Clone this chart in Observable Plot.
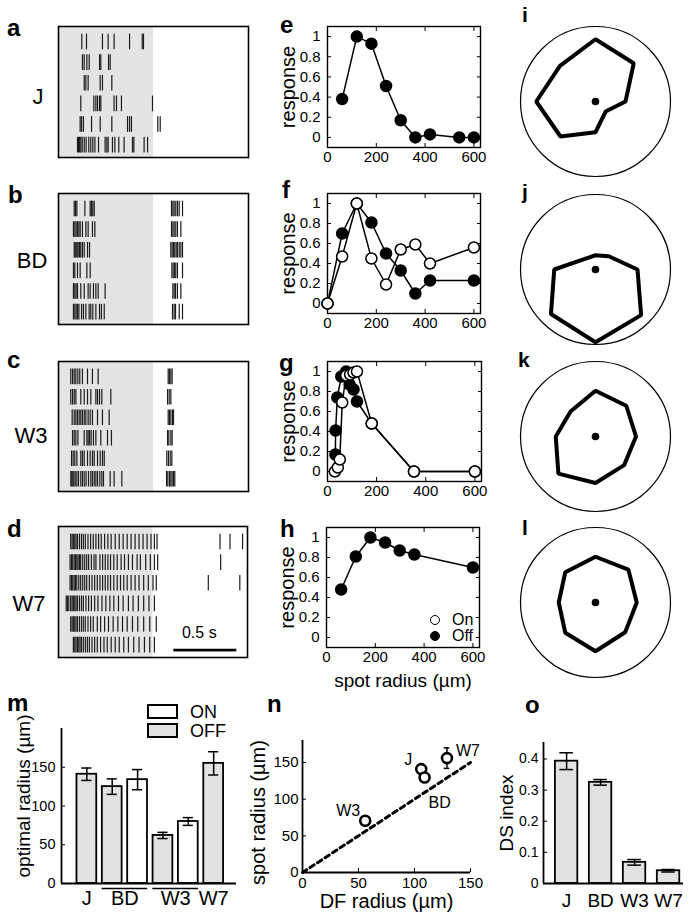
<!DOCTYPE html>
<html><head><meta charset="utf-8">
<script src="https://cdn.jsdelivr.net/npm/d3@7"></script>
<script src="https://cdn.jsdelivr.net/npm/@observablehq/plot@0.6"></script>
<style>
body{margin:0;background:#fff;}
#fig{position:relative;width:692px;height:924px;overflow:hidden;background:#fff;}
#fig svg{position:absolute;overflow:visible;}
</style></head><body><div id="fig"></div>
<script>
const FONT = '"Liberation Sans", Arial, Helvetica, sans-serif';
const fig = document.getElementById("fig");

// ---------- DATA ----------
// Raster spike times (ms), 6 trials per cell type
const TRIAL_MS = 1500;
const stimWindow = [0, 750];
const scaleBarMs = 500;
const spikesJ = [
 [184,221,347,392,439,561,661,671],
 [189,203,224,242,324,334,395,408],
 [203,216,234,329,347,421],
 [176,279,295,308,324,334,439,458,497,742],
 [171,182,197,261,329,421,545,561,576,784,803],
 [150,158,166,176,187,203,218,239,255,271,287,316,368,382,392,426,445,476,518,584,595,676,703]
];
const spikesBD = [
 [124,134,145,208,250,261,271,282,892,903,913,926,939,953,979],
 [118,129,139,150,161,171,189,216,234,268,287,892,903,913,926,939,966],
 [124,132,139,147,155,166,176,189,203,229,245,887,897,908,918,929,939,953,966,979],
 [118,129,150,171,224,250,895,905,916,926,939,979],
 [118,129,139,150,176,203,234,250,276,295,313,368,903,913,924,939,966],
 [118,129,139,150,161,182,197,216,242,255,271,295,324,339,361,900,913,924,953,979]
];
const spikesW3 = [
 [97,111,124,137,153,168,189,229,268,313,866,876,887,897],
 [97,111,124,137,176,203,229,255,295,308,324,342,413,861,874,887],
 [108,124,137,150,163,176,189,203,216,234,250,268,308,347,400,866,876,887,900,908],
 [111,124,137,153,203,224,234,245,258,276,295,334,387,418,861,871,887,897],
 [103,116,129,145,176,189,203,229,250,268,282,308,329,347,361,855,868,882,895],
 [97,105,113,121,132,145,158,176,189,203,218,237,255,268,282,295,308,326,342,355,408,439,500,853,863,876,887,897,908,918]
];
const spikesW7 = [
 [97,108,118,129,139,150,166,182,197,213,234,255,276,297,318,339,366,392,418,450,482,513,545,576,608,639,671,703,734,761,782,1282,1361,1461],
 [92,103,113,124,134,145,155,166,176,192,208,224,239,261,282,297,329,350,371,392,413,439,466,497,524,555,587,624,650,692,729,761,787,1287],
 [92,103,113,124,134,145,161,176,192,208,224,245,266,287,308,329,350,371,392,413,439,466,492,518,545,576,608,639,676,713,750,776,1189,1439],
 [61,71,82,97,108,118,129,139,150,166,182,197,218,239,261,287,313,345,376,408,439,476,513,555,592,634,676,718,761],
 [97,108,118,129,139,150,166,182,197,213,234,255,276,308,334,366,397,434,471,508,545,587,629,676,724,776],
 [118,129,139,150,161,171,182,197,213,229,245,266,287,308,334,361,387,418,450,482,518,555,597,639,682,724,761]
];

// Spot-size tuning (spot radius µm, normalized response)
const eRadius = [60,120,180,240,300,360,420,540,600];
const eOff    = [0.38,1.0,0.93,0.51,0.17,0,0.03,0,0];
const fRadius = [0,60,120,180,240,300,360,420,600];
const fOn     = [0,0.47,1.0,0.45,0.19,0.54,0.59,0.40,0.56];
const fOff    = [0,0.70,1.0,0.81,0.50,0.33,0.10,0.23,0.23];
const gRadiusOn  = [30,42,50,60,76,92,106,120,180,352,600];
const gOn        = [0,0.04,0.12,0.69,0.96,0.97,0.99,1.0,0.48,0,0];
const gRadiusOff = [32,33,40,56,76,90,106,120,180,352,600];
const gOff       = [0.17,0.41,0.74,0.95,1.0,0.87,0.82,0.70,0.48,0,0];
const hRadius = [60,120,180,240,300,360,600];
const hOff    = [0.48,0.81,1.0,0.95,0.87,0.83,0.70];
const tuneXTicks = [0,200,400,600];
const tuneYTicks = [0,0.2,0.4,0.6,0.8,1];

// Direction tuning (8 directions, normalized radius)
const directions = [0,45,90,135,180,225,270,315];
const dirJ  = [0.40,0.72,0.83,0.67,0.79,0.66,0.41,0.19];
const dirBD = [0.56,0.25,0.19,0.20,0.55,0.84,0.97,0.86];
const dirW3 = [0.54,0.58,0.61,0.47,0.53,0.70,0.62,0.54];
const dirW7 = [0.55,0.62,0.61,0.57,0.49,0.57,0.65,0.56];

// m: optimal radius
const mCell  = ["J","BD","BD","W3","W3","W7"];
const mPol   = ["OFF","OFF","ON","OFF","ON","OFF"];
const mValue = [141,125,134,62,80,155];
const mErr   = [8,10,13,4,5,15];
const mYTicks = [0,50,100,150];

// n: DF radius vs spot radius
const nCell = ["W3","J","BD","W7"];
const nDF   = [56,106,109,129];
const nSpot = [70.5,141,129.5,156];
const nErr  = [3,4,5,14];
const nTicks = [0,50,100,150];
const identityLine = [0,150];

// o: DS index
const oCell  = ["J","BD","W3","W7"];
const oValue = [0.393,0.325,0.068,0.041];
const oErr   = [0.027,0.009,0.009,0.004];
const oYTicks = [0,0.1,0.2,0.3,0.4];

// ---------- HELPERS ----------
function mk(frame, m, spec) {
  const p = Plot.plot({
    width: frame.w + m.l + m.r, height: frame.h + m.t + m.b,
    marginLeft: m.l, marginRight: m.r, marginTop: m.t, marginBottom: m.b,
    style: {fontFamily: FONT, fontSize: "15px", color: "black", background: "transparent", overflow: "visible"},
    ...spec
  });
  p.style.left = (frame.x - m.l) + "px";
  p.style.top = (frame.y - m.t) + "px";
  fig.append(p);
  return p;
}
function letter(t, x, base, size, weight = "bold") {
  const d = document.createElement("div");
  d.textContent = t;
  d.style.cssText = `position:absolute;left:${x}px;top:${base - 0.847*size}px;font:${weight} ${size}px ${FONT};line-height:1;white-space:nowrap;`;
  fig.append(d);
}
function ctext(t, cx, cy, size, extra = "") {
  const d = document.createElement("div");
  d.textContent = t;
  d.style.cssText = `position:absolute;left:${cx}px;top:${cy}px;transform:translate(-50%,-50%);font:${size}px ${FONT};line-height:1;white-space:nowrap;${extra}`;
  fig.append(d);
}
function yLabel(t, dx, dy, size) {
  return Plot.text([t], {text: d => d, frameAnchor: "left", rotate: -90, textAnchor: "middle", lineAnchor: "middle", dx, dy, fontSize: size, fill: "black"});
}
function xLabel(t, dy, size) {
  return Plot.text([t], {text: d => d, frameAnchor: "bottom", textAnchor: "middle", lineAnchor: "middle", dy, fontSize: size, fill: "black"});
}

// ---------- RASTERS a-d ----------
function raster(rows, frame, extra = []) {
  const data = rows.flatMap((r, i) => r.map(t => ({t, row: i + 1})));
  return mk(frame, {l: 0, r: 0, t: 0, b: 0}, {
    x: {domain: [0, TRIAL_MS], axis: null},
    y: {domain: [0.25, 6.6], reverse: true, axis: null},
    marks: [
      Plot.rect([stimWindow], {x1: d => d[0], x2: d => d[1], fill: "#e4e4e4"}),
      Plot.ruleX(data, {x: "t", y1: d => d.row - 0.38, y2: d => d.row + 0.38, stroke: "#1c1c1c", strokeWidth: 1.2}),
      ...extra,
      Plot.frame({stroke: "black", strokeWidth: 1.6})
    ]
  });
}
raster(spikesJ,  {x: 58, y: 26,  w: 190, h: 131});
raster(spikesBD, {x: 58, y: 193, w: 190, h: 131});
raster(spikesW3, {x: 58, y: 361, w: 190, h: 130});
const scaleBar = [{start: 915, len: scaleBarMs, label: "0.5 s"}];
raster(spikesW7, {x: 58, y: 526, w: 189, h: 131}, [
  Plot.rect(scaleBar, {x1: d => d.start, x2: d => d.start + d.len, y1: 6.2, y2: 6.33, fill: "black"}),
  Plot.text(scaleBar, {x: d => d.start + d.len / 2, y: 5.4, text: "label", dx: -6, fontSize: 16, fill: "black"})
]);

// ---------- TUNING e-h ----------
function tuning(frame, series, showXLabel = false) {
  const marks = [
    Plot.frame({stroke: "black", strokeWidth: 1.4}),
    Plot.axisX({ticks: tuneXTicks, tickSize: -4, tickPadding: 8, label: null, fontSize: 15, tickFormat: d => String(d)}),
    Plot.axisX({anchor: "top", ticks: tuneXTicks, tickSize: -4, label: null, tickFormat: () => ""}),
    Plot.axisY({ticks: tuneYTicks, tickSize: -4, tickPadding: 11, label: null, fontSize: 15, tickFormat: d => String(d)}),
    Plot.axisY({anchor: "right", ticks: tuneYTicks, tickSize: -4, label: null, tickFormat: () => ""}),
  ];
  for (const s of series) {
    marks.push(Plot.line(s.x.map((x, i) => ({x, y: s.y[i]})), {x: "x", y: "y", stroke: "black", strokeWidth: 1.5}));
  }
  for (const s of [...series].sort((a, b) => (a.filled ? 0 : 1) - (b.filled ? 0 : 1))) {
    marks.push(Plot.dot(s.x.map((x, i) => ({x, y: s.y[i]})), {x: "x", y: "y", r: 5.5, fill: s.filled ? "black" : "white", stroke: "black", strokeWidth: 1.5}));
  }
  marks.push(yLabel("response", -39, 0, 20));
  if (showXLabel) marks.push(xLabel("spot radius (µm)", 33, 19));
  return mk(frame, {l: 50, r: 10, t: 10, b: 45}, {
    x: {domain: [0, 627], axis: null},
    y: {domain: [-0.1, 1.1], axis: null},
    marks
  });
}
tuning({x: 327, y: 26, w: 153, h: 121}, [{x: eRadius, y: eOff, filled: true}]);
tuning({x: 327, y: 193, w: 153, h: 120}, [{x: fRadius, y: fOff, filled: true}, {x: fRadius, y: fOn, filled: false}]);
tuning({x: 327, y: 361, w: 154, h: 120}, [{x: gRadiusOff, y: gOff, filled: true}, {x: gRadiusOn, y: gOn, filled: false}]);
tuning({x: 326, y: 527, w: 153, h: 120}, [{x: hRadius, y: hOff, filled: true}], true);

// legend for h
function legendDot(cx, cy, filled, label) {
  const c = document.createElement("div");
  c.style.cssText = `position:absolute;left:${cx-5.5}px;top:${cy-5.5}px;width:8px;height:8px;border:1.5px solid black;border-radius:50%;background:${filled ? "black" : "white"};`;
  fig.append(c);
  letter(label, cx + 17, cy + 6, 16, "normal");
}
legendDot(435, 620, false, "On");
legendDot(435, 636, true, "Off");

// ---------- POLAR i-l ----------
const R = 75;
function polar(cx, cy, radii) {
  const pts = directions.map((a, i) => ({a: a * Math.PI / 180, r: radii[i]}));
  return mk({x: cx - R, y: cy - R, w: 2 * R, h: 2 * R}, {l: 4, r: 4, t: 4, b: 4}, {
    x: {domain: [-1, 1], axis: null},
    y: {domain: [-1, 1], axis: null},
    marks: [
      Plot.dot([[0, 0]], {r: R, stroke: "black", strokeWidth: 1.2, fill: "none"}),
      Plot.line(pts, {x: d => d.r * Math.cos(d.a), y: d => d.r * Math.sin(d.a), curve: "linear-closed", stroke: "black", strokeWidth: 4, strokeLinejoin: "miter"}),
      Plot.dot([[0, 0]], {r: 3.8, fill: "black"})
    ]
  });
}
polar(594.5, 101, dirJ);
polar(594.5, 269, dirBD);
polar(594.5, 436, dirW3);
polar(594.5, 602, dirW7);

// ---------- m: optimal radius ----------
const mData = mCell.map((c, i) => ({cell: c, pol: mPol[i], v: mValue[i], e: mErr[i], i: i + 1}));
const mGroups = Array.from(d3.group(mData, d => d.cell), ([cell, ds]) => ({cell, c: d3.mean(ds, d => d.i), lo: d3.min(ds, d => d.i), hi: d3.max(ds, d => d.i), n: ds.length}));
mk({x: 61, y: 728, w: 175, h: 155}, {l: 45, r: 10, t: 5, b: 30}, {
  x: {domain: [0, 6.9], axis: null},
  y: {domain: [0, 200], axis: null},
  marks: [
    Plot.rect(mData, {x1: d => d.i - 0.39, x2: d => d.i + 0.39, y1: 0, y2: "v", fill: d => d.pol === "ON" ? "white" : "#e2e2e2", stroke: "black", strokeWidth: 1.8}),
    Plot.ruleX(mData, {x: "i", y1: d => d.v - d.e, y2: d => d.v + d.e, stroke: "black", strokeWidth: 1.5}),
    Plot.ruleY(mData, {y: d => d.v + d.e, x1: d => d.i - 0.2, x2: d => d.i + 0.2, stroke: "black", strokeWidth: 1.5}),
    Plot.ruleY(mData, {y: d => d.v - d.e, x1: d => d.i - 0.2, x2: d => d.i + 0.2, stroke: "black", strokeWidth: 1.5}),
    Plot.ruleX([0], {stroke: "black", strokeWidth: 1.8}),
    Plot.ruleY([0], {stroke: "black", strokeWidth: 1.8}),
    Plot.axisY({ticks: mYTicks, tickSize: -4, tickPadding: 10, label: null, fontSize: 14.5, tickFormat: d => String(d)}),
    Plot.ruleY(mGroups.filter(g => g.n > 1), {y: 0, x1: d => d.lo - 0.4, x2: d => d.hi + 0.4, dy: 5, stroke: "black", strokeWidth: 1.5}),
    Plot.text(mGroups, {x: "c", y: 0, text: "cell", dy: 15, lineAnchor: "middle", fontSize: 20, fill: "black"}),
    yLabel("optimal radius (µm)", -38, -10, 19)
  ]
});
// legend m
function legendBox(x, y, fill, label) {
  const b = document.createElement("div");
  b.style.cssText = `position:absolute;left:${x}px;top:${y}px;width:27px;height:11px;border:2px solid black;background:${fill};`;
  fig.append(b);
  letter(label, x + 43, y + 14, 18, "normal");
}
legendBox(147, 704, "white", "ON");
legendBox(147, 723, "#e2e2e2", "OFF");

// ---------- n: DF radius vs spot radius ----------
const nData = nCell.map((c, i) => ({cell: c, df: nDF[i], spot: nSpot[i], e: nErr[i]}));
const nLabelStyle = {W3: {dx: -5, dy: -10, anchor: "end"}, J: {dx: -9, dy: -9, anchor: "end"}, BD: {dx: 4, dy: 25, anchor: "start"}, W7: {dx: 9, dy: -7, anchor: "start"}};
mk({x: 302, y: 740, w: 168, h: 132}, {l: 50, r: 15, t: 5, b: 40}, {
  x: {domain: [0, 150], axis: null},
  y: {domain: [0, 180], axis: null},
  marks: [
    Plot.line(identityLine.map(v => ({x: v, y: v})), {x: "x", y: "y", stroke: "black", strokeWidth: 3, strokeDasharray: "5,4"}),
    Plot.ruleX([0], {stroke: "black", strokeWidth: 1.8}),
    Plot.ruleY([0], {stroke: "black", strokeWidth: 1.8}),
    Plot.axisX({ticks: nTicks, tickSize: -4, tickPadding: 9, label: null, fontSize: 15, tickFormat: d => String(d)}),
    Plot.axisY({ticks: nTicks, tickSize: -4, tickPadding: 8, label: null, fontSize: 15, tickFormat: d => String(d)}),
    Plot.ruleX(nData, {x: "df", y1: d => d.spot - d.e, y2: d => d.spot + d.e, stroke: "black", strokeWidth: 1.5}),
    Plot.ruleY(nData, {y: d => d.spot + d.e, x1: d => d.df - 2.5, x2: d => d.df + 2.5, stroke: "black", strokeWidth: 1.5}),
    Plot.ruleY(nData, {y: d => d.spot - d.e, x1: d => d.df - 2.5, x2: d => d.df + 2.5, stroke: "black", strokeWidth: 1.5}),
    Plot.dot(nData, {x: "df", y: "spot", r: 5, fill: "white", stroke: "black", strokeWidth: 2.6}),
    ...nData.map(d => Plot.text([d], {x: "df", y: "spot", text: "cell", dx: nLabelStyle[d.cell].dx, dy: nLabelStyle[d.cell].dy, textAnchor: nLabelStyle[d.cell].anchor, fontSize: 16, fill: "black"})),
    xLabel("DF radius (µm)", 29, 20),
    yLabel("spot radius (µm)", -44, 6, 20)
  ]
});

// ---------- o: DS index ----------
const oData = oCell.map((c, i) => ({cell: c, v: oValue[i], e: oErr[i], i: i + 1}));
mk({x: 543, y: 742, w: 140, h: 141}, {l: 45, r: 8, t: 5, b: 30}, {
  x: {domain: [0.32, 4.44], axis: null},
  y: {domain: [0, 0.453], axis: null},
  marks: [
    Plot.rect(oData, {x1: d => d.i - 0.33, x2: d => d.i + 0.33, y1: 0, y2: "v", fill: "#e2e2e2", stroke: "black", strokeWidth: 1.8}),
    Plot.ruleX(oData, {x: "i", y1: d => d.v - d.e, y2: d => d.v + d.e, stroke: "black", strokeWidth: 1.5}),
    Plot.ruleY(oData, {y: d => d.v + d.e, x1: d => d.i - 0.2, x2: d => d.i + 0.2, stroke: "black", strokeWidth: 1.5}),
    Plot.ruleY(oData, {y: d => d.v - d.e, x1: d => d.i - 0.2, x2: d => d.i + 0.2, stroke: "black", strokeWidth: 1.5}),
    Plot.ruleX([0.32], {stroke: "black", strokeWidth: 1.8}),
    Plot.ruleY([0], {stroke: "black", strokeWidth: 1.8}),
    Plot.axisY({ticks: oYTicks, tickSize: -4, tickPadding: 9, label: null, fontSize: 14, tickFormat: d => String(d)}),
    Plot.text(oData, {x: "i", y: 0, text: "cell", dy: 17, lineAnchor: "middle", fontSize: 19, fill: "black"}),
    yLabel("DS index", -37, 0, 19)
  ]
});

// ---------- Panel letters and cell labels ----------
[["a",7,36],["b",8,203],["c",7,368],["d",7,537],["e",280,33],["f",282,198],["g",279,371],["h",280,537],
 ["m",7,711],["n",267,712],["o",525,713]].forEach(([t,x,y]) => letter(t, x, y, 24));
[["i",522,22],["j",522,199],["k",518,367],["l",522,535]].forEach(([t,x,y]) => letter(t, x, y, 21));
ctext("J", 38, 97, 22);
ctext("BD", 32, 261, 22);
ctext("W3", 31, 436, 22);
ctext("W7", 29, 604, 22);
</script></body></html>
